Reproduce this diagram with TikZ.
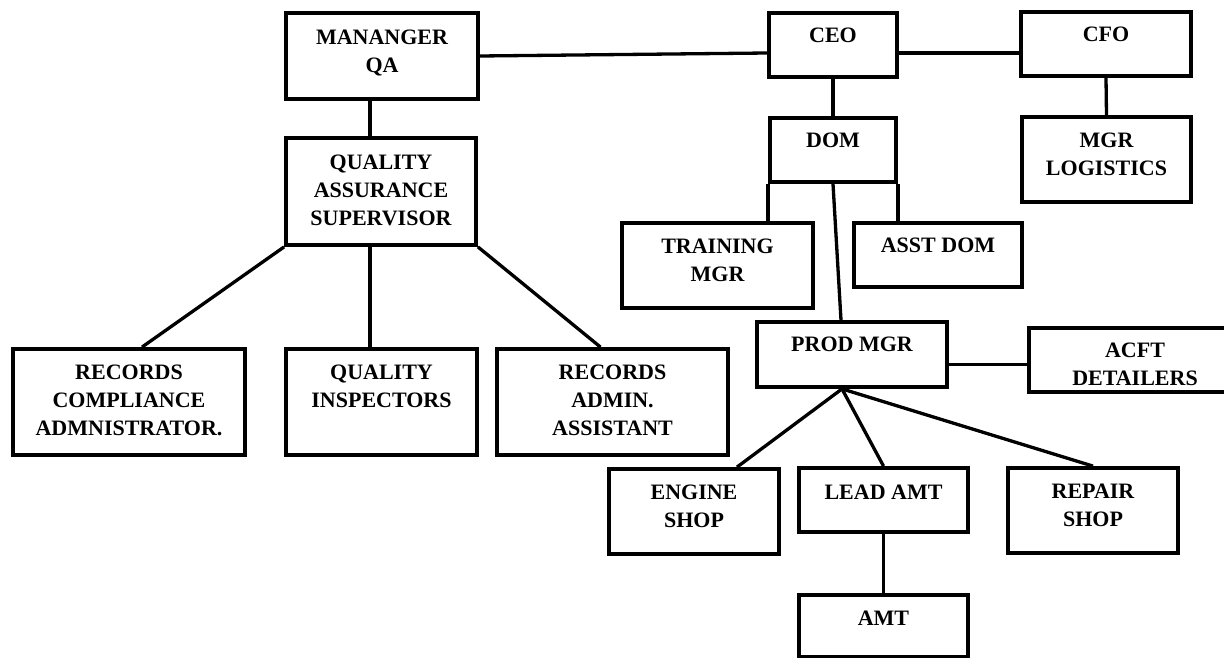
\documentclass[tikz,border=0pt]{standalone}
\usepackage{fontspec}
\setmainfont{Liberation Serif}
\begin{document}
\begin{tikzpicture}[x=1pt,y=-1pt,
  box/.style={draw, line width=3.8pt, inner sep=0pt},
  lbl/.style={font=\bfseries\fontsize{22}{28}\selectfont, align=center, inner sep=0pt, anchor=north},
  link/.style={line width=3.3pt}]
\useasboundingbox (0,0) rectangle (1224,658);
\clip (0,0) rectangle (1224,658);
% boxes
\node[box, minimum width=192pt, minimum height=86pt] (qa) at (382,56) {};
\node[box, minimum width=190pt, minimum height=107pt] (qas) at (381,191.5) {};
\node[box, minimum width=128pt, minimum height=64pt] (ceo) at (833,45) {};
\node[box, minimum width=170pt, minimum height=64pt] (cfo) at (1106,44) {};
\node[box, minimum width=126pt, minimum height=64pt] (dom) at (833,150) {};
\node[box, minimum width=169pt, minimum height=85pt] (log) at (1106.5,159.5) {};
\node[box, minimum width=191pt, minimum height=85pt] (trn) at (717.5,265.5) {};
\node[box, minimum width=168pt, minimum height=64pt] (asst) at (938,255) {};
\node[box, minimum width=190pt, minimum height=65pt] (prod) at (852,354.5) {};
\node[box, minimum width=212pt, minimum height=64pt] (acft) at (1135,360) {};
\node[box, minimum width=170pt, minimum height=85pt] (eng) at (694,511.5) {};
\node[box, minimum width=169pt, minimum height=64pt] (lead) at (883.5,500) {};
\node[box, minimum width=170pt, minimum height=85pt] (rep) at (1093,510.5) {};
\node[box, minimum width=169pt, minimum height=62pt] (amt) at (883.5,626) {};
\node[box, minimum width=232pt, minimum height=106pt] (rc) at (129,402) {};
\node[box, minimum width=191pt, minimum height=106pt] (qi) at (381.5,402) {};
\node[box, minimum width=231pt, minimum height=106pt] (ra) at (612.5,402) {};
% labels
\node[lbl] (qa-t) at ([yshift=-19pt]qa.north) {MANANGER\\QA};
\node[lbl] (qas-t) at ([yshift=-19pt]qas.north) {QUALITY\\ASSURANCE\\SUPERVISOR};
\node[lbl] (ceo-t) at ([yshift=-17pt]ceo.north) {CEO};
\node[lbl] (cfo-t) at ([yshift=-17pt]cfo.north) {CFO};
\node[lbl] (dom-t) at ([yshift=-17pt]dom.north) {DOM};
\node[lbl] (log-t) at ([yshift=-18pt]log.north) {MGR\\LOGISTICS};
\node[lbl] (trn-t) at ([yshift=-18pt]trn.north) {TRAINING\\MGR};
\node[lbl] (asst-t) at ([yshift=-17pt]asst.north) {ASST DOM};
\node[lbl] (prod-t) at ([yshift=-17pt]prod.north) {PROD MGR};
\node[lbl] (acft-t) at ([yshift=-17pt]acft.north) {ACFT\\DETAILERS};
\node[lbl] (eng-t) at ([yshift=-18pt]eng.north) {ENGINE\\SHOP};
\node[lbl] (lead-t) at ([yshift=-19pt]lead.north) {LEAD AMT};
\node[lbl] (rep-t) at ([yshift=-18pt]rep.north) {REPAIR\\SHOP};
\node[lbl] (amt-t) at ([yshift=-18pt]amt.north) {AMT};
\node[lbl] (rc-t) at ([yshift=-18pt]rc.north) {RECORDS\\COMPLIANCE\\ADMNISTRATOR.};
\node[lbl] (qi-t) at ([yshift=-18pt]qi.north) {QUALITY\\INSPECTORS};
\node[lbl] (ra-t) at ([yshift=-18pt]ra.north) {RECORDS\\ADMIN.\\ASSISTANT};
% connectors
\coordinate (qsv) at ([xshift=-12pt]qa.south);
\coordinate (qsd) at ([xshift=-11pt]qas.south);
\coordinate (pf) at ([xshift=-10pt]prod.south);
\draw[link] (qa.east) -- ([yshift=-8pt]ceo.west);
\draw[link] ([yshift=-8pt]ceo.east) -- ([yshift=-9pt]cfo.west);
\draw[link] (ceo.south) -- (dom.north);
\draw[link] (cfo.south) -- (log.north);
\draw[link] (qsv) -- (qsv |- qas.north);
\draw[link] (qas.south west) -- ([xshift=13pt]rc.north);
\draw[link] (qsd) -- (qsd |- qi.north);
\draw[link] (qas.south east) -- ([xshift=-12pt]ra.north);
\draw[link] (dom.south west) -- (dom.south west |- trn.north);
\draw[link] (dom.south east) -- (dom.south east |- asst.north);
\draw[link] (dom.south) -- ([xshift=-11pt]prod.north);
\draw[link] ([yshift=-10pt]prod.east) -- ([yshift=-10pt]prod.east -| acft.west);
\draw[link] (pf) -- ([xshift=43pt]eng.north);
\draw[link] (pf) -- (lead.north);
\draw[link] (pf) -- (rep.north);
\draw[link] (lead.south) -- (amt.north);
\end{tikzpicture}
\end{document}
